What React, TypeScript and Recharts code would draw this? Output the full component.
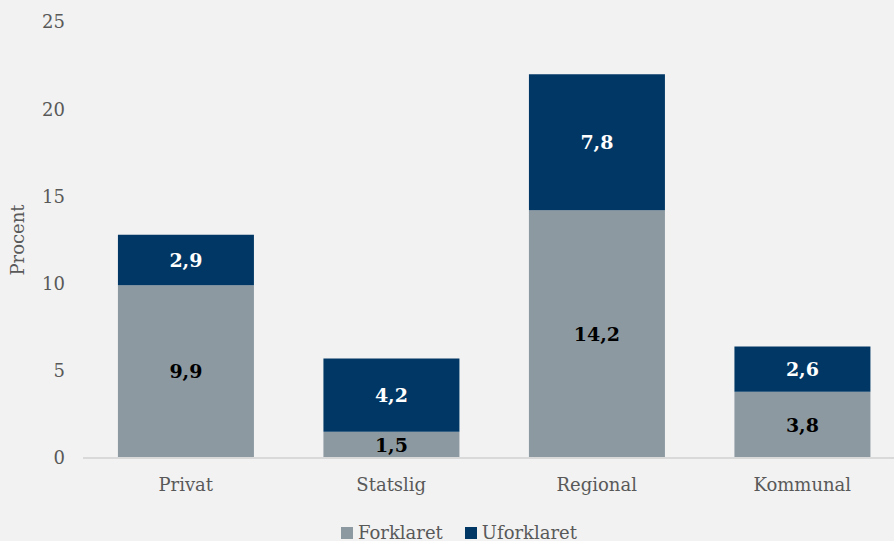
import React from 'react';
import { BarChart, Bar, XAxis, YAxis, Legend, LabelList } from 'recharts';

const categories = ['Privat', 'Statslig', 'Regional', 'Kommunal'];
const forklaret = [9.9, 1.5, 14.2, 3.8];
const uforklaret = [2.9, 4.2, 7.8, 2.6];
const yTicks = [0, 5, 10, 15, 20, 25];

const data = categories.map((name, i) => ({
  name,
  forklaret: forklaret[i],
  uforklaret: uforklaret[i],
}));

const FONT = '"DejaVu Serif", "Liberation Serif", serif';
const GRAY = '#8c99a1';
const NAVY = '#013764';

const fmt = (v: any) => Number(v).toFixed(1).replace('.', ',');

const renderLegend = () => (
  <div style={{ display: 'flex', justifyContent: 'center', fontFamily: FONT, fontSize: 18, color: '#595959', paddingRight: 10 }}>
    <span style={{ display: 'flex', alignItems: 'center', marginRight: 22 }}>
      <span style={{ width: 12, height: 12, background: GRAY, display: 'inline-block', marginRight: 5 }} />
      Forklaret
    </span>
    <span style={{ display: 'flex', alignItems: 'center' }}>
      <span style={{ width: 12, height: 12, background: NAVY, display: 'inline-block', marginRight: 5 }} />
      Uforklaret
    </span>
  </div>
);

export default function App() {
  return (
    <div style={{ position: 'fixed', top: 0, left: 0, width: 894, height: 541, overflow: 'hidden', background: '#f2f2f2' }}>
      <BarChart
        width={905}
        height={560}
        data={data}
        barCategoryGap="17%"
        margin={{ top: 22, right: 0, left: 23, bottom: 0 }}
      >
        <XAxis
          dataKey="name"
          tickLine={false}
          axisLine={{ stroke: '#d9d9d9', strokeWidth: 2 }}
          tick={{ fill: '#595959', fontSize: 18, fontFamily: FONT }}
          tickMargin={14}
          height={72}
        />
        <YAxis
          domain={[0, 25]}
          ticks={yTicks}
          axisLine={false}
          tickLine={false}
          width={60}
          tick={{ fill: '#595959', fontSize: 18, fontFamily: FONT }}
          tickMargin={12}
          label={{ value: 'Procent', angle: -90, position: 'insideLeft', offset: -5, style: { fill: '#595959', fontSize: 18, fontFamily: FONT, textAnchor: 'middle' } }}
        />
        <Legend content={renderLegend} wrapperStyle={{ top: 522, height: 30 }} />
        <Bar dataKey="forklaret" name="Forklaret" stackId="a" fill={GRAY} isAnimationActive={false}>
          <LabelList dataKey="forklaret" position="center" formatter={fmt} style={{ fill: '#000', fontWeight: 'bold', fontSize: 19, fontFamily: FONT }} />
        </Bar>
        <Bar dataKey="uforklaret" name="Uforklaret" stackId="a" fill={NAVY} isAnimationActive={false}>
          <LabelList dataKey="uforklaret" position="center" formatter={fmt} style={{ fill: '#fff', fontWeight: 'bold', fontSize: 19, fontFamily: FONT }} />
        </Bar>
      </BarChart>
    </div>
  );
}
